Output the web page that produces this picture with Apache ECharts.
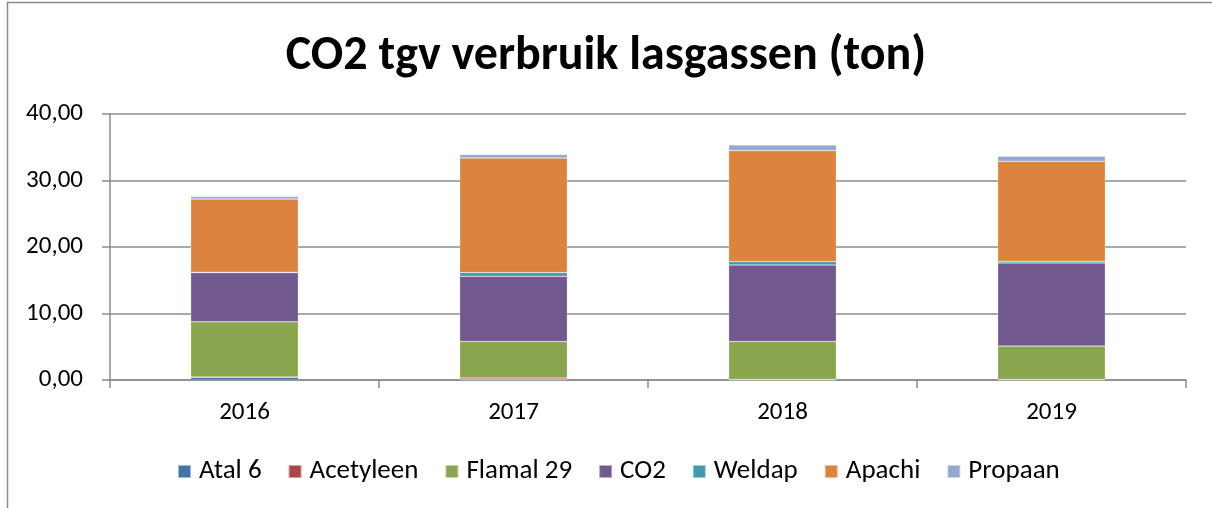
<!DOCTYPE html>
<html><head><meta charset="utf-8">
<script src="https://cdn.jsdelivr.net/npm/echarts@6/dist/echarts.min.js"></script>
<style>html,body{margin:0;padding:0;background:#fff}#c{width:1212px;height:508px}</style>
</head><body><div id="c"></div>
<script>
const categories = ['2016','2017','2018','2019'];
const atal6     = [0.40, 0.10, 0.05, 0.05];
const acetyleen = [0.05, 0.20, 0.05, 0.05];
const flamal29  = [8.30, 5.50, 5.70, 5.00];
const co2       = [7.40, 9.80, 11.50, 12.50];
const weldap    = [0.05, 0.55, 0.50, 0.25];
const apachi    = [11.00, 17.25, 16.70, 15.05];
const propaan   = [0.40, 0.50, 0.85, 0.75];
const yTicks = [0, 10, 20, 30, 40];

const seriesDefs = [
  ['Atal 6', atal6, '#4572A7'],
  ['Acetyleen', acetyleen, '#AA4643'],
  ['Flamal 29', flamal29, '#89A54E'],
  ['CO2', co2, '#71588F'],
  ['Weldap', weldap, '#4198AF'],
  ['Apachi', apachi, '#DB843D'],
  ['Propaan', propaan, '#93A9CF']
];
const font = 'Carlito, "Liberation Sans", Arial, sans-serif';
const chart = echarts.init(document.getElementById('c'));
chart.setOption({
  animation: false,
  graphic: [{type:'rect', shape:{x:7.5,y:2.5,width:1220,height:520}, style:{fill:'none',stroke:'#8c8c8c',lineWidth:1.5}, silent:true}],
  title: {text:'CO2 tgv verbruik lasgassen (ton)', left:'center', top:28,
    textStyle:{fontFamily:font, fontWeight:'bold', fontSize:48, color:'#000'}},
  grid: {left:110, right:26, top:114, bottom:128},
  legend: {bottom:18, left:172, itemWidth:13, itemHeight:13, itemGap:26,
    icon:'rect', textStyle:{fontFamily:font, fontSize:27, color:'#000', padding:[0,0,0,3]}},
  xAxis: {type:'category', data:categories,
    axisLine:{lineStyle:{color:'#8c8c8c', width:1.5}},
    axisTick:{show:true, length:8, lineStyle:{color:'#8c8c8c', width:1.5}},
    axisLabel:{fontFamily:font, fontSize:25, color:'#000', margin:20}},
  yAxis: {type:'value', min:0, max:40, interval:10,
    axisLine:{show:true, lineStyle:{color:'#8c8c8c', width:1.5}},
    axisTick:{show:true, length:8, lineStyle:{color:'#8c8c8c', width:1.5}},
    splitLine:{lineStyle:{color:'#8c8c8c', width:1.5}},
    axisLabel:{fontFamily:font, fontSize:25, color:'#000', margin:27,
      formatter: v => v.toFixed(2).replace('.', ',')}},
  series: seriesDefs.map(([n, d, c]) => ({
    name:n, type:'bar', stack:'total', data:d, barWidth:'40%',
    itemStyle:{color:c, borderColor:'rgba(255,255,255,0.5)', borderWidth:0.5}
  }))
});
</script></body></html>
